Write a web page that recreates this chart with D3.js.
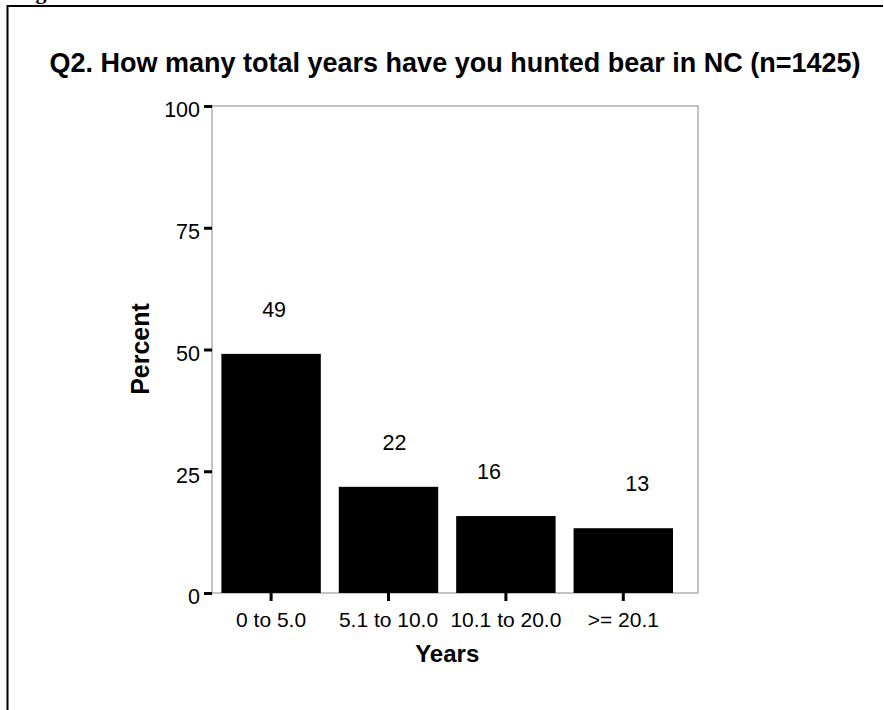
<!DOCTYPE html>
<html>
<head>
<meta charset="utf-8">
<script src="https://cdn.jsdelivr.net/npm/d3@7"></script>
<style>
  html, body { margin: 0; padding: 0; background: #fff; }
  svg { display: block; }
  text { font-family: Arial, "Liberation Sans", Helvetica, sans-serif; fill: #000; }
</style>
</head>
<body>
<svg id="chart" width="884" height="710"></svg>
<script>
// ---- data ----
const categories = ["0 to 5.0", "5.1 to 10.0", "10.1 to 20.0", ">= 20.1"];
const percents = [49.1, 21.8, 15.8, 13.3];
const valueLabels = ["49", "22", "16", "13"];
const yTicks = [0, 25, 50, 75, 100];
const titleText = "Q2. How many total years have you hunted bear in NC (n=1425)";
const xTitle = "Years";
const yTitle = "Percent";

// ---- layout / style ----
const W = 884, H = 710;
const plot = { left: 212, top: 106, right: 698, bottom: 593 };
const labelNudge = [3, 6, -17, 14]; // horizontal placement of value labels (style)

const svg = d3.select("#chart");

// outer frame (left and top edges visible)
svg.append("line").attr("x1", 7.5).attr("x2", 7.5).attr("y1", 5).attr("y2", H)
  .attr("stroke", "#000").attr("stroke-width", 2);
svg.append("line").attr("x1", 7).attr("x2", 883).attr("y1", 6).attr("y2", 6)
  .attr("stroke", "#000").attr("stroke-width", 2);
// caption above frame, clipped by the page top as in the reference
svg.append("text").attr("x", 16).attr("y", -1)
  .style("font-family", "'Times New Roman', 'Liberation Serif', serif")
  .style("font-weight", "bold").style("font-size", "22px")
  .text("Figure");

const x = d3.scaleBand().domain(categories)
  .range([plot.left, plot.left + 470.4]).paddingInner(0.153).paddingOuter(0.08);
const y = d3.scaleLinear().domain([0, 100]).range([plot.bottom, plot.top]);

// plot frame (gray)
svg.append("rect").attr("x", plot.left).attr("y", plot.top)
  .attr("width", plot.right - plot.left).attr("height", plot.bottom - plot.top)
  .attr("fill", "none").attr("stroke", "#888").attr("stroke-width", 1);

// bars
svg.append("g").selectAll("rect").data(percents).join("rect")
  .attr("x", (d, i) => x(categories[i]))
  .attr("y", d => y(d))
  .attr("width", x.bandwidth())
  .attr("height", d => y(0) - y(d))
  .attr("fill", "#000");

// value labels
svg.append("g").selectAll("text").data(percents).join("text")
  .attr("x", (d, i) => x(categories[i]) + x.bandwidth() / 2 + labelNudge[i])
  .attr("y", d => y(d) - 37)
  .attr("text-anchor", "middle")
  .style("font-size", "21.5px")
  .text((d, i) => valueLabels[i]);

// y axis
const yAxis = d3.axisLeft(y).tickValues(yTicks).tickSize(8).tickPadding(4);
const gy = svg.append("g").attr("transform", `translate(${plot.left},0)`).call(yAxis);
gy.select(".domain").remove();
gy.selectAll(".tick line").attr("stroke", "#000").attr("stroke-width", 3);
gy.selectAll(".tick text").style("font-size", "21.5px").style("font-family", "Arial, 'Liberation Sans', sans-serif")
  .attr("dy", "0.5em").attr("fill", "#000");

// x axis
const xAxis = d3.axisBottom(x).tickSize(8).tickPadding(11);
const gx = svg.append("g").attr("transform", `translate(0,${plot.bottom})`).call(xAxis);
gx.select(".domain").remove();
gx.selectAll(".tick line").attr("stroke", "#000").attr("stroke-width", 3);
gx.selectAll(".tick text").style("font-size", "21px").style("font-family", "Arial, 'Liberation Sans', sans-serif")
  .attr("fill", "#000");

// titles
svg.append("text").attr("x", 455).attr("y", 72).attr("text-anchor", "middle")
  .style("font-size", "27px").style("font-weight", "bold").text(titleText);
svg.append("text").attr("x", (x.range()[0] + x.range()[1]) / 2).attr("y", 662).attr("text-anchor", "middle")
  .style("font-size", "24px").style("font-weight", "bold").text(xTitle);
svg.append("text").attr("transform", "translate(149,349) rotate(-90)").attr("text-anchor", "middle")
  .style("font-size", "25px").style("font-weight", "bold").text(yTitle);
</script>
</body>
</html>
